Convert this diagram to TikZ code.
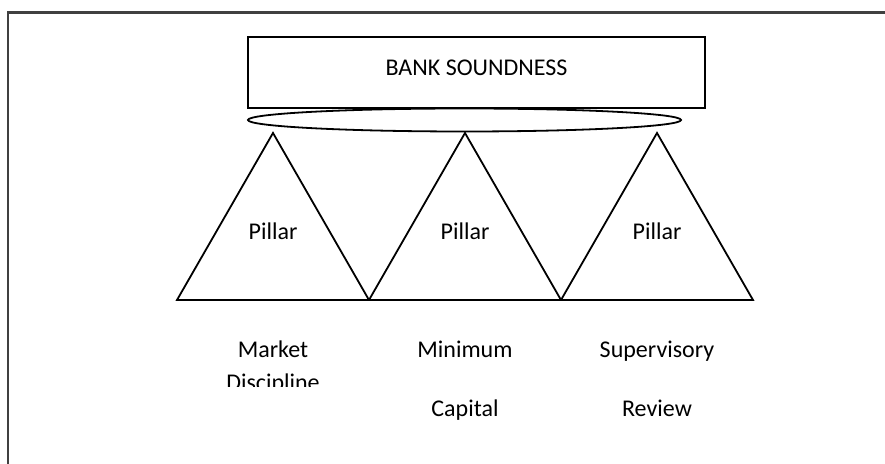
\documentclass[tikz,border=0pt]{standalone}
\usepackage{fontspec}
\setmainfont{Carlito}
\usetikzlibrary{shapes.geometric}
\begin{document}
\begin{tikzpicture}[x=0.5pt, y=-0.5pt,
    box/.style={draw, line width=0.9pt, minimum width=228.5pt, minimum height=35.5pt, inner sep=0pt,
      font=\fontsize{12}{14}\selectfont, text height=7.73pt, text depth=4.5pt},
    ring/.style={ellipse, draw, line width=0.9pt, minimum width=216.5pt, minimum height=11.5pt, inner sep=0pt},
    pillar/.style={draw, line width=0.9pt, line join=miter},
    lbl/.style={anchor=base, font=\fontsize{12}{14}\selectfont, inner sep=0pt}]
  \clip (0,0) rectangle (885,464);
  \draw[black!75, line width=1.1pt] (8,12.5) rectangle (900,480);
  \node[box] (bank) at (476.5,72.5) {BANK SOUNDNESS};
  \node[ring] (ring) at (464.5,120) {};
  \foreach \x/\n in {273/a, 465/b, 657/c} {
    \draw[pillar] (\x-96,300) -- (\x,133) -- (\x+96,300) -- cycle;
    \node[lbl] (pillar-\n) at (\x,240) {Pillar};
  }
  \node[lbl] (market) at (273,358) {Market};
  \begin{scope}
    \clip (173,362) rectangle (373,387);
    \node[lbl] (discipline) at (273,390.5) {Discipline};
  \end{scope}
  \node[lbl] (minimum) at (465,358) {Minimum};
  \node[lbl] (capital) at (465,417) {Capital};
  \node[lbl] (supervisory) at (657,358) {Supervisory};
  \node[lbl] (review) at (657,417) {Review};
\end{tikzpicture}
\end{document}
